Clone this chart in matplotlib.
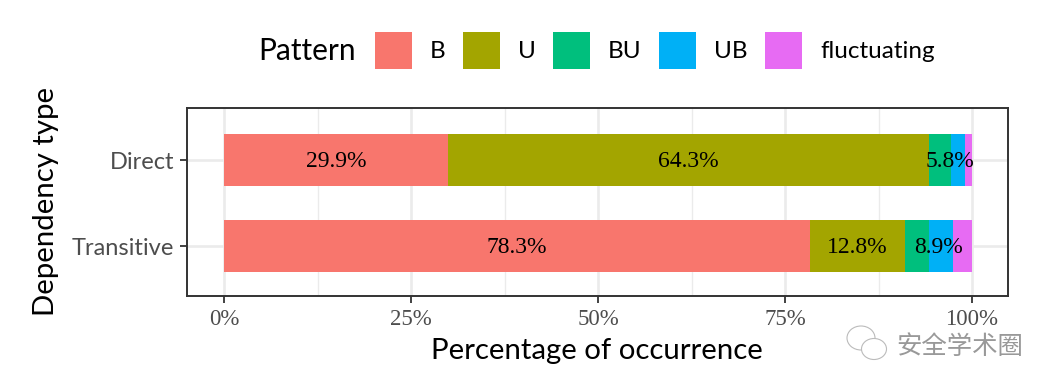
import matplotlib
matplotlib.use("Agg")
import matplotlib.pyplot as plt
from matplotlib.patches import Rectangle, Ellipse
import numpy as np

groups = ["Direct", "Transitive"]
patterns = ["B", "U", "BU", "UB", "fluctuating"]
colors = ["#F8766D", "#A3A500", "#00BF7D", "#00B0F6", "#E76BF3"]
direct = [29.9, 64.3, 3.0, 1.9, 0.9]
transitive = [78.3, 12.8, 3.15, 3.2, 2.55]
# labels: text and which segments they span
direct_labels = [("29.9%", 0, 1), ("64.3%", 1, 2), ("5.8%", 2, 5)]
transitive_labels = [("78.3%", 0, 1), ("12.8%", 1, 2), ("8.9%", 2, 5)]
xticks = [0, 25, 50, 75, 100]
xminor = [12.5, 37.5, 62.5, 87.5]

W, H = 1058, 392
sans = "Lato"
serif = "Liberation Serif"

fig = plt.figure(figsize=(W / 100, H / 100), dpi=100)
ax = fig.add_axes([187 / W, 1 - 296 / H, (1008 - 187) / W, (296 - 108) / H])
ax.set_xlim(-4.95, 104.81)
ax.set_ylim(-0.581, 1.605)

ax.set_axisbelow(True)
ax.grid(True, which="major", color="#EBEBEB", lw=1.9)
ax.set_xticks(xticks)
ax.set_xticks(xminor, minor=True)
ax.grid(True, which="minor", axis="x", color="#EBEBEB", lw=1.0)
ax.tick_params(axis="x", which="minor", length=0)
ax.set_yticks([1, 0])
ax.set_yticklabels(groups, fontname=sans, fontsize=17, color="#4D4D4D")
ax.set_xticklabels([f"{t}%" for t in xticks], fontname=serif, fontsize=16.5, color="#4D4D4D")
ax.tick_params(axis="y", which="major", length=5, width=1.3, color="#333333", pad=4)
ax.tick_params(axis="x", which="major", length=5, width=1.3, color="#333333", pad=4.5)
for s in ax.spines.values():
    s.set_color("#333333")
    s.set_linewidth(1.4)

for y, vals, labs in [(1, direct, direct_labels), (0, transitive, transitive_labels)]:
    vals = np.array(vals)
    starts = np.concatenate([[0], np.cumsum(vals)])
    ax.barh(y, vals, left=starts[:-1], height=0.605, color=colors, zorder=2)
    for txt, a, b in labs:
        ax.annotate(txt, ((starts[a] + starts[b]) / 2, y), xytext=(0, -1), textcoords="offset points",
                    ha="center", va="center", fontname=serif, fontsize=17, color="black", zorder=3)

fig.text(597 / W, 1 - 351 / H, "Percentage of occurrence", ha="center", va="center",
         fontname=sans, fontsize=21.2, color="black")
fig.text(46 / W, 1 - 202 / H, "Dependency type", ha="center", va="center", rotation=90,
         fontname=sans, fontsize=21.2, color="black")

# legend
fig.text(258 / W, 1 - 51 / H, "Pattern", ha="left", va="center", fontname=sans, fontsize=21.5)
key_x = [375, 463, 553, 659, 765]
for x, name, c in zip(key_x, patterns, colors):
    fig.add_artist(Rectangle((x / W, 1 - 69 / H), 37 / W, 37 / H, transform=fig.transFigure,
                             facecolor=c, edgecolor="none"))
    fig.text((x + 55) / W, 1 - 51 / H, name, ha="left", va="center", fontname=sans,
             fontsize=17.5, color="black")

# watermark
fig.text(896 / W, 1 - 347 / H, "安全学术圈", ha="left", va="center",
         family=["Noto Sans CJK SC", "DejaVu Sans"], fontsize=18.3, color="#999999")
for cx, cy, w, h in [(861, 338, 28, 24), (874, 349, 25, 21)]:
    fig.add_artist(Ellipse((cx / W, 1 - cy / H), w / W, h / H, transform=fig.transFigure,
                           facecolor="white", edgecolor="#BBBBBB", lw=0.8))

fig.savefig("out.png", dpi=100)
